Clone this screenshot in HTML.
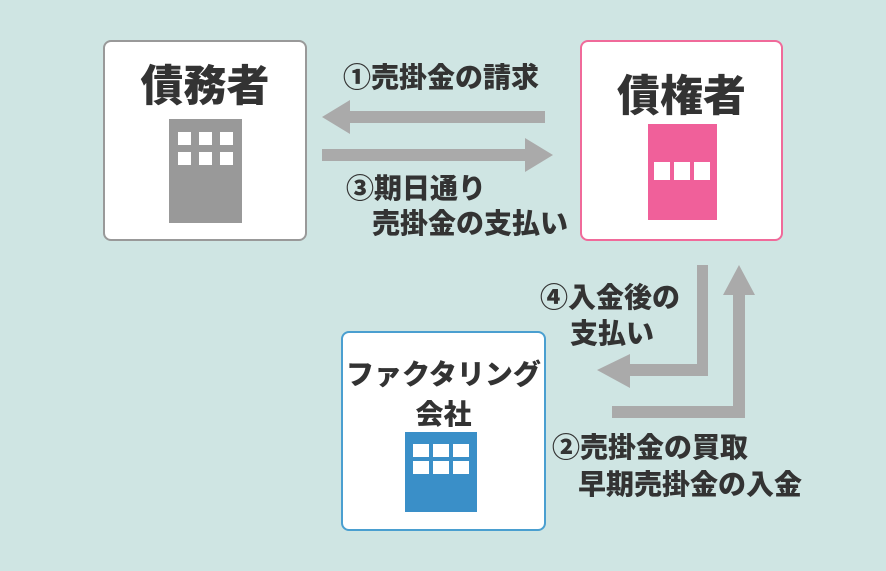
<!DOCTYPE html>
<html><head><meta charset="utf-8"><style>
body{margin:0;width:886px;height:571px;background:#cfe5e3;position:relative;overflow:hidden;font-family:"Liberation Sans","Noto Sans CJK JP",sans-serif;font-weight:bold;color:#333}
.box{position:absolute;background:#fff;border-radius:8px;box-sizing:border-box;border:2px solid #999}
.t{position:absolute;white-space:nowrap;font-weight:900}
</style></head><body>
<div class="box" style="left:103px;top:40px;width:204px;height:201px;border-color:#999"></div>
<div class="box" style="left:580px;top:40px;width:203px;height:201px;border-color:#f06a9a"></div>
<div class="box" style="left:341px;top:331px;width:205px;height:200px;border-color:#4a9fd0"></div>

<div class="t" style="left:103px;width:204px;text-align:center;top:52px;font-size:43px">債務者</div>
<div class="t" style="left:580px;width:203px;text-align:center;top:62px;font-size:43px">債権者</div>
<div class="t" style="left:341px;width:205px;text-align:center;top:355px;font-size:28px;line-height:40px">ファクタリング<br>会社</div>

<svg width="886" height="571" style="position:absolute;left:0;top:0">
<rect x="169" y="119" width="73" height="104" fill="#999"/>
<g fill="#fff"><rect x="178" y="132" width="13" height="13"/><rect x="199" y="132" width="13" height="13"/><rect x="220" y="132" width="13" height="13"/>
<rect x="178" y="152" width="13" height="13"/><rect x="199" y="152" width="13" height="13"/><rect x="220" y="152" width="13" height="13"/></g>
<rect x="648" y="124" width="69" height="96" fill="#f0609a"/>
<g fill="#fff"><rect x="654" y="162" width="16" height="18"/><rect x="674" y="162" width="16" height="18"/><rect x="694" y="162" width="16" height="18"/></g>
<rect x="405" y="432" width="72" height="80" fill="#3a8fc8"/>
<g fill="#fff"><rect x="413" y="444" width="16" height="13"/><rect x="433" y="444" width="16" height="13"/><rect x="453" y="444" width="16" height="13"/>
<rect x="413" y="461" width="16" height="13"/><rect x="433" y="461" width="16" height="13"/><rect x="453" y="461" width="16" height="13"/></g>
<g fill="#aaa">
<polygon points="545,111 350,111 350,100 322,117 350,134 350,123 545,123"/>
<polygon points="322,149 525,149 525,138 553,155 525,172 525,161 322,161"/>
<polygon points="697,265 708,265 708,376 630,376 630,388 597,370 630,354 630,364 697,364"/>
<polygon points="612,406 733,406 733,295 723,295 739,265 755,295 745,295 745,418 612,418"/>
</g>
</svg>

<div class="t" style="left:343px;top:56px;font-size:28px">①売掛金の請求</div>
<div class="t" style="left:346px;top:167px;font-size:28px">③期日通り</div>
<div class="t" style="left:372px;top:202px;font-size:28px">売掛金の支払い</div>
<div class="t" style="left:540px;top:276px;font-size:28px">④入金後の</div>
<div class="t" style="left:570px;top:312px;font-size:28px">支払い</div>
<div class="t" style="left:552px;top:426px;font-size:28px">②売掛金の買取</div>
<div class="t" style="left:578px;top:463px;font-size:28px">早期売掛金の入金</div>
</body></html>
